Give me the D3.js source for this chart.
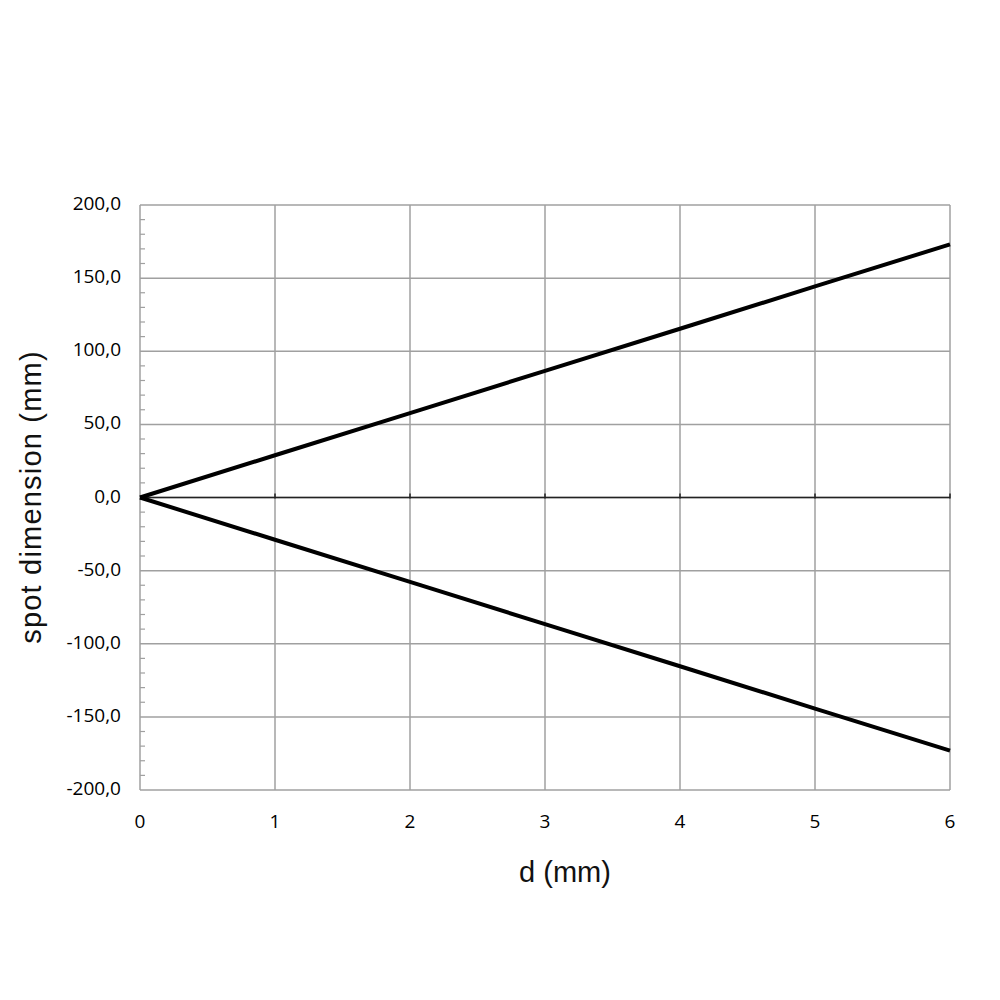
<!DOCTYPE html>
<html>
<head>
<meta charset="utf-8">
<script src="https://cdn.jsdelivr.net/npm/d3@7"></script>
<style>
  body { margin: 0; background: #fff; }
  svg { display: block; }
</style>
</head>
<body>
<svg id="chart" width="1000" height="1000"></svg>
<script>
// values
const dValues = [0, 1, 2, 3, 4, 5, 6];
const upperSpot = [0, 28.9, 57.7, 86.6, 115.4, 144.3, 173.1];
const lowerSpot = [0, -28.9, -57.7, -86.6, -115.4, -144.3, -173.1];
const xTicks = [0, 1, 2, 3, 4, 5, 6];
const yTicks = [-200, -150, -100, -50, 0, 50, 100, 150, 200];
const yMinorTicks = d3.range(-200, 201, 10);

const margin = { top: 205, right: 50, bottom: 210, left: 140 };
const w = 1000, h = 1000;
const iw = w - margin.left - margin.right;
const ih = h - margin.top - margin.bottom;

const svg = d3.select('#chart');
const g = svg.append('g').attr('transform', `translate(${margin.left},${margin.top})`);

const x = d3.scaleLinear().domain([0, 6]).range([0, iw]);
const y = d3.scaleLinear().domain([-200, 200]).range([ih, 0]);

const gridColor = '#a0a0a0';
const labelFont = '"Open Sans", "Liberation Sans", sans-serif';
const titleFont = '"Liberation Sans", Arial, sans-serif';

// horizontal gridlines
g.selectAll('.hgrid').data(yTicks).enter().append('line')
    .attr('x1', 0).attr('x2', iw)
    .attr('y1', d => y(d)).attr('y2', d => y(d))
    .attr('stroke', gridColor).attr('stroke-width', 1.5);

// vertical gridlines
g.selectAll('.vgrid').data(xTicks).enter().append('line')
    .attr('x1', d => x(d)).attr('x2', d => x(d))
    .attr('y1', 0).attr('y2', ih)
    .attr('stroke', gridColor).attr('stroke-width', 1.5);

// minor ticks on the y axis, pointing inside
g.selectAll('.minor').data(yMinorTicks.filter(v => v % 50 !== 0)).enter().append('line')
    .attr('x1', 0).attr('x2', 5)
    .attr('y1', d => y(d)).attr('y2', d => y(d))
    .attr('stroke', gridColor).attr('stroke-width', 1.2);

// zero line with small ticks
g.append('line')
    .attr('x1', 0).attr('x2', iw)
    .attr('y1', y(0)).attr('y2', y(0))
    .attr('stroke', '#222').attr('stroke-width', 1.5);
g.selectAll('.zt').data(xTicks.filter(v => v > 0)).enter().append('line')
    .attr('x1', d => x(d)).attr('x2', d => x(d))
    .attr('y1', y(0) - 4).attr('y2', y(0) + 1)
    .attr('stroke', '#222').attr('stroke-width', 1.5);

// series
const line = d3.line().x((d, i) => x(dValues[i])).y(d => y(d));
[upperSpot, lowerSpot].forEach(s => {
    g.append('path').datum(s).attr('d', line)
        .attr('fill', 'none').attr('stroke', '#000')
        .attr('stroke-width', 4).attr('stroke-linecap', 'butt');
});

// y tick labels
g.selectAll('.yl').data(yTicks).enter().append('text')
    .attr('x', -19).attr('y', d => y(d))
    .attr('text-anchor', 'end').attr('dominant-baseline', 'middle')
    .attr('font-family', labelFont).attr('font-size', 19).attr('fill', '#000')
    .text(d => d3.format('.1f')(d).replace('.', ',').replace('−', '-'));

// x tick labels
g.selectAll('.xl').data(xTicks).enter().append('text')
    .attr('x', d => x(d)).attr('y', ih + 38)
    .attr('text-anchor', 'middle')
    .attr('font-family', labelFont).attr('font-size', 19).attr('fill', '#000')
    .text(d => d);

// axis titles
svg.append('text')
    .attr('x', 565).attr('y', 882)
    .attr('text-anchor', 'middle')
    .attr('font-family', titleFont).attr('font-size', 29).attr('fill', '#111')
    .text('d (mm)');

svg.append('text')
    .attr('transform', 'translate(41,497) rotate(-90)')
    .attr('text-anchor', 'middle')
    .attr('font-family', titleFont).attr('font-size', 29)
    .attr('letter-spacing', 1.2).attr('fill', '#111')
    .text('spot dimension (mm)');
</script>
</body>
</html>
